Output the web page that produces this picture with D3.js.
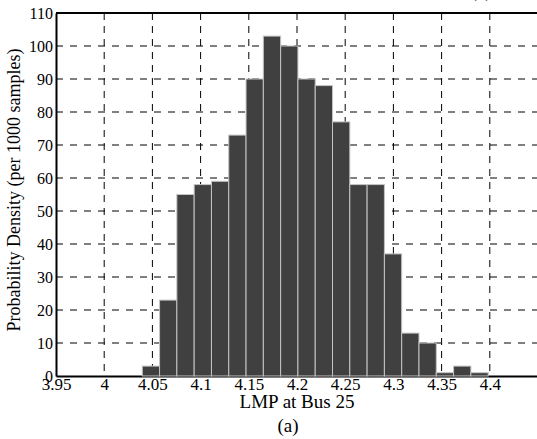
<!DOCTYPE html>
<html>
<head>
<meta charset="utf-8">
<script src="https://cdn.jsdelivr.net/npm/d3@7"></script>
<style>
    body { margin: 0; background: white; }
    svg { display: block; }
</style>
</head>
<body>
<script>

// histogram of 1000 LMP samples, 20 bins
const binStart = 4.0395
const binWidth = 0.01794
const counts = [3, 23, 55, 58, 59, 73, 90, 103, 100, 90, 88, 77, 58, 58, 37, 13, 10, 1, 3, 1]

const xTicks = [3.95, 4, 4.05, 4.1, 4.15, 4.2, 4.25, 4.3, 4.35, 4.4]
const yTicks = [0, 10, 20, 30, 40, 50, 60, 70, 80, 90, 100, 110]

const xLabel = 'LMP at Bus 25'
const yLabel = 'Probability Density (per 1000 samples)'
const caption = '(a)'

let chart = {}

function setupChart (){

    chart.width = 537
    chart.height = 439
    chart.left = 56
    chart.right = 538
    chart.top = 13
    chart.bottom = 376
    chart.font = '"Liberation Serif", "Times New Roman", serif'

    const svg = d3.select('body')
        .append('svg')
        .attr('width', chart.width)
        .attr('height', chart.height)

    const x = d3.scaleLinear().domain([3.95, 4.45]).range([chart.left, chart.right])
    const y = d3.scaleLinear().domain([0, 110]).range([chart.bottom, chart.top])

    const bins = counts.map((c, i) => ({
        x0: binStart + i * binWidth,
        x1: binStart + (i + 1) * binWidth,
        count: c
    }))

    addGrid(svg, x, y)
    addAxes(svg, x, y)
    addBars(svg, x, y, bins)
    addLabels(svg, x, y)
}

function addGrid (svg, x, y){

    const grid = svg.append('g').attr('class', 'grid')

    grid.selectAll('line.vgrid')
        .data(xTicks.slice(1))
        .join('line')
        .attr('class', 'vgrid')
        .attr('x1', d => x(d))
        .attr('x2', d => x(d))
        .attr('y1', chart.top)
        .attr('y2', chart.bottom)
        .attr('stroke', 'black')
        .attr('stroke-width', 1)
        .attr('stroke-dasharray', '7,6')

    grid.selectAll('line.hgrid')
        .data(yTicks.slice(1, -1))
        .join('line')
        .attr('class', 'hgrid')
        .attr('x1', chart.left)
        .attr('x2', chart.right)
        .attr('y1', d => y(d))
        .attr('y2', d => y(d))
        .attr('stroke', 'black')
        .attr('stroke-width', 1)
        .attr('stroke-dasharray', '7,7')
}

function addAxes (svg, x, y){

    const xAxis = svg.append('g')
        .attr('transform', 'translate(0,' + chart.bottom + ')')
        .call(d3.axisBottom(x).tickValues(xTicks).tickSize(0).tickPadding(5).tickFormat(d3.format('')))

    xAxis.select('.domain').attr('stroke', 'black').attr('stroke-width', 2)
    xAxis.selectAll('text')
        .style('font-family', chart.font)
        .style('font-size', '17px')
        .attr('fill', 'black')
        .attr('dy', '0.55em')

    const yAxis = svg.append('g')
        .attr('transform', 'translate(' + chart.left + ',0)')
        .call(d3.axisLeft(y).tickValues(yTicks).tickSize(0).tickPadding(3))

    yAxis.select('.domain').attr('stroke', 'black').attr('stroke-width', 2)
    yAxis.selectAll('text')
        .style('font-family', chart.font)
        .style('font-size', '16px')
        .attr('fill', 'black')

    // top frame line
    svg.append('line')
        .attr('x1', chart.left)
        .attr('x2', chart.right)
        .attr('y1', chart.top)
        .attr('y2', chart.top)
        .attr('stroke', 'black')
        .attr('stroke-width', 2)
}

function addBars (svg, x, y, bins){

    svg.append('g')
        .selectAll('rect')
        .data(bins)
        .join('rect')
        .attr('x', d => x(d.x0))
        .attr('y', d => y(d.count))
        .attr('width', d => x(d.x1) - x(d.x0))
        .attr('height', d => y(0) - y(d.count))
        .attr('fill', '#404040')
        .attr('stroke', '#c4c4c4')
        .attr('stroke-width', 1)
}

function addLabels (svg, x, y){

    const mid = (chart.left + chart.right) / 2

    svg.append('text')
        .text(xLabel)
        .attr('x', mid)
        .attr('y', 408)
        .style('font-family', chart.font)
        .style('font-size', '19px')
        .style('text-anchor', 'middle')
        .attr('fill', 'black')

    svg.append('text')
        .text(caption)
        .attr('x', 288)
        .attr('y', 432)
        .style('font-family', chart.font)
        .style('font-size', '19px')
        .style('text-anchor', 'middle')
        .attr('fill', 'black')

    // caption of the panel above, cut off at the top edge
    svg.append('text')
        .text(caption)
        .attr('x', 481)
        .attr('y', -3)
        .style('font-family', chart.font)
        .style('font-size', '19px')
        .style('text-anchor', 'middle')
        .attr('fill', 'black')

    svg.append('text')
        .text(yLabel)
        .attr('transform', 'translate(20,' + 190 + ') rotate(-90)')
        .style('font-family', chart.font)
        .style('font-size', '18px')
        .style('text-anchor', 'middle')
        .attr('fill', 'black')
}

setupChart()

</script>
</body>
</html>
